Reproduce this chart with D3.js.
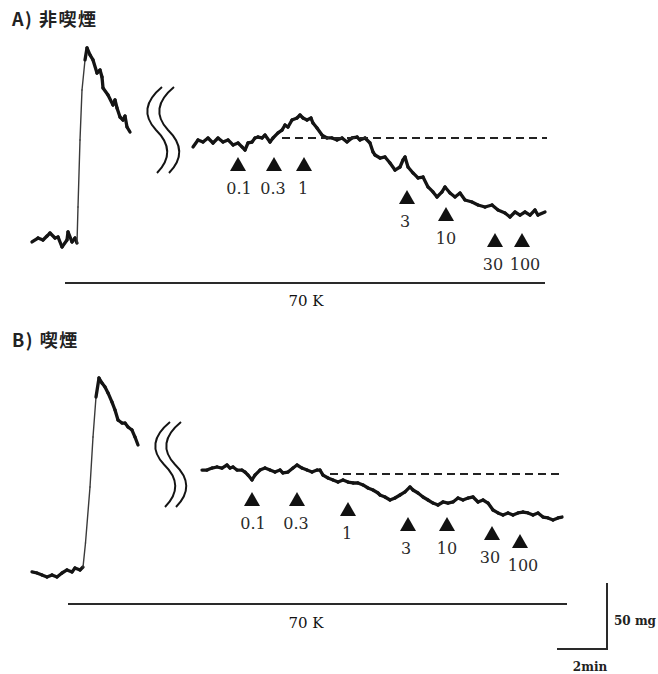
<!DOCTYPE html>
<html><head><meta charset="utf-8">
<script src="https://cdn.jsdelivr.net/npm/d3@7"></script>
<style>body{margin:0;background:#fff}</style>
</head><body>
<svg id="c" width="658" height="674"></svg>
<script>
// ---------------- DATA (time in min, tension in mg above resting baseline) ----------------
const titles = ["A) 非喫煙", "B) 喫煙"];
const doses = ["0.1", "0.3", "1", "3", "10", "30", "100"];
const doseTimeA = [8.24, 9.68, 10.88, 15.0, 16.56, 18.52, 19.6];
const doseTimeB = [8.8, 10.6, 12.64, 15.04, 16.6, 18.4, 19.52];
const kclLabel = "70 K";
const kclSpanA = [1.32, 20.52];
const kclSpanB = [1.44, 21.4];
const refLevelA = 77.3, refSpanA = [10.0, 20.6];
const refLevelB = 75.0, refSpanB = [11.92, 21.2];
const scaleMg = 50, scaleMin = 2;

// A) non-smoker: KCl contraction, then (after break) cumulative doses
const traceA1 = [[0,-1.5],[0.24,1.5],[0.44,0],[0.6,3],[0.72,5.3],[0.92,1.5],[1.04,2.3],[1.2,-5.3],[1.4,0],[1.44,6.1],[1.6,-1.5],[1.72,1.5],[1.8,-2.3],
  [1.84,25],[1.92,75.8],[2.0,113.6],[2.12,136.4],[2.2,145.5],[2.32,140.2],[2.44,136.4],[2.6,126.5],[2.72,128.8],[2.8,123.5],[2.84,115.2],
  [3.04,109.8],[3.24,102.3],[3.32,106.1],[3.4,100],[3.52,93.2],[3.64,90.9],[3.72,93.9],[3.8,85.6],[3.92,81.8]];
const traceA2 = [[6.44,70.5],[6.64,75.8],[6.84,74.2],[7.04,77.3],[7.24,73.5],[7.44,77.3],[7.64,74.2],[7.84,75.8],[8.04,72.0],[8.24,73.5],
  [8.40,70.5],[8.52,68.2],[8.64,73.5],[8.80,74.2],[8.92,77.3],[9.04,78.0],[9.20,77.3],[9.32,79.5],[9.52,74.2],[9.64,77.3],[9.84,81.1],
  [10.00,83.3],[10.12,87.1],[10.24,85.6],[10.40,90.9],[10.60,92.4],[10.72,94.7],[10.84,92.4],[11.00,90.9],[11.16,92.4],[11.24,88.6],
  [11.40,84.8],[11.60,79.5],[11.80,77.3],[12.00,77.3],[12.20,75.8],[12.40,77.3],[12.60,74.2],[12.80,77.3],[13.00,78.0],[13.12,75.8],
  [13.32,77.3],[13.52,73.5],[13.64,66.7],[13.72,64.4],[13.92,62.1],[14.12,62.9],[14.32,58.3],[14.52,53.0],[14.72,55.3],[14.84,60.6],
  [14.92,62.9],[15.04,55.3],[15.24,50.8],[15.44,47.0],[15.64,47.7],[15.84,40.2],[16.04,36.4],[16.20,32.6],[16.40,36.4],[16.52,40.2],
  [16.72,35.6],[16.92,32.6],[17.12,35.6],[17.32,30.3],[17.60,28.8],[17.84,26.5],[18.12,25.0],[18.40,26.5],[18.64,22.7],[18.92,20.5],
  [19.12,17.4],[19.32,21.2],[19.52,18.9],[19.72,21.2],[19.92,18.9],[20.12,22.7],[20.24,18.9],[20.52,21.2]];

// B) smoker
const traceB1 = [[0,0.8],[0.2,0],[0.4,-1.5],[0.6,-3.0],[0.8,-1.5],[1.0,-3.0],[1.2,0],[1.4,2.3],[1.6,0.8],[1.72,3.8],[1.92,2.3],[2.04,4.5],
  [2.14,22.7],[2.32,65.2],[2.44,103],[2.56,133.3],[2.68,147.7],[2.8,143.9],[2.92,140.9],[3.04,136.4],[3.2,129.5],[3.32,123.5],[3.44,115.9],
  [3.6,113.6],[3.72,113.6],[3.84,110.6],[4.0,108.3],[4.12,103],[4.24,97]];
const traceB2 = [[6.8,78.0],[7.0,78.0],[7.2,79.5],[7.4,80.3],[7.6,79.5],[7.8,81.8],[7.92,79.5],[8.04,80.3],[8.2,78.0],[8.4,78.0],[8.52,76.5],
  [8.64,74.2],[8.8,70.5],[8.92,74.2],[9.12,78.0],[9.32,79.5],[9.52,78.0],[9.72,76.5],[9.92,78.0],[10.04,75.8],[10.24,76.5],[10.44,79.5],
  [10.6,81.8],[10.8,79.5],[11.0,78.0],[11.2,76.5],[11.4,78.0],[11.52,78.0],[11.64,74.2],[11.84,72.0],[12.04,70.5],[12.24,68.9],[12.44,70.5],
  [12.64,68.9],[12.84,68.2],[13.04,68.2],[13.24,66.7],[13.44,64.4],[13.64,62.9],[13.84,60.6],[13.92,59.1],[14.12,57.6],[14.32,55.3],
  [14.52,56.8],[14.72,59.1],[14.92,61.4],[15.12,65.2],[15.24,62.9],[15.44,60.6],[15.64,57.6],[15.84,55.3],[16.04,53.0],[16.24,51.5],
  [16.44,53.8],[16.64,53.0],[16.84,53.8],[17.04,56.8],[17.24,55.3],[17.44,56.8],[17.64,57.6],[17.84,53.8],[18.04,55.3],[18.24,53.0],
  [18.44,47.7],[18.64,45.5],[18.84,43.9],[19.04,45.5],[19.24,43.9],[19.44,45.5],[19.64,46.2],[19.84,45.5],[20.04,43.9],[20.24,45.5],
  [20.44,42.4],[20.64,41.7],[20.84,40.2],[21.04,41.7],[21.2,42.4]];

// ---------------- LAYOUT ----------------
const arrowLevelA = [62.9, 62.9, 62.9, 37.9, 25, 5.3, 5.3];
const arrowLevelB = [61.4, 61.4, 53.8, 42.4, 42.4, 35.6, 29.5];
const labelDx = [1, -1, -1, -2, 0, -2, 3];

const svg = d3.select("#c");
const x = d3.scaleLinear().domain([0, 2]).range([32, 82]);
const yA = d3.scaleLinear().domain([0, 50]).range([240, 174]);
const yB = d3.scaleLinear().domain([0, 50]).range([573, 507]);
const INK = "#141414";

function drawTrace(y, data) {
  const g = svg.append("g");
  for (let i = 1; i < data.length; i++) {
    const x0 = x(data[i-1][0]), y0 = y(data[i-1][1]), x1 = x(data[i][0]), y1 = y(data[i][1]);
    const steep = Math.abs(y1 - y0) > 20 && Math.abs(y1 - y0) / Math.max(0.1, Math.abs(x1 - x0)) > 6;
    g.append("line").attr("x1", x0).attr("y1", y0).attr("x2", x1).attr("y2", y1)
      .attr("stroke", steep ? "#3a3a3a" : INK).attr("stroke-width", steep ? 1.4 : 3.3)
      .attr("stroke-linecap", "round");
  }
}
function drawBreak(bx, top, bot) {
  const h = bot - top, mid = top + h / 2;
  const p = d3.path();
  p.moveTo(bx + 14, top);
  p.quadraticCurveTo(bx - 12, top + h * 0.25, bx + 8, mid);
  p.quadraticCurveTo(bx + 30, mid + h * 0.25, bx + 9, bot);
  svg.append("path").attr("d", p.toString()).attr("fill", "none").attr("stroke", INK).attr("stroke-width", 2);
}
function drawPanel(y, title, titleY, t1, t2, doseT, levels, refLevel, refSpan, kclSpan, kclY, kclTextY, breaks) {
  svg.append("text").attr("x", 12).attr("y", titleY).text(title)
    .attr("font-family", "'Noto Sans CJK JP', sans-serif").attr("font-size", 18).attr("font-weight", 700)
    .attr("letter-spacing", 1.5).attr("fill", "#222");
  drawTrace(y, t1);
  drawTrace(y, t2);
  breaks.forEach(b => drawBreak(b[0], b[1], b[2]));
  svg.append("line").attr("x1", x(refSpan[0])).attr("x2", x(refSpan[1]))
    .attr("y1", y(refLevel)).attr("y2", y(refLevel))
    .attr("stroke", "#222").attr("stroke-width", 2).attr("stroke-dasharray", "8,5");
  doses.forEach((d, i) => {
    const ax = x(doseT[i]), ay = y(levels[i]);
    svg.append("path").attr("d", `M${ax},${ay} L${ax + 8},${ay + 14} L${ax - 8},${ay + 14} Z`).attr("fill", "#111");
    svg.append("text").attr("x", ax + labelDx[i]).attr("y", ay + 37).attr("text-anchor", "middle").text(d)
      .attr("font-family", "'DejaVu Serif', serif").attr("font-size", 16).attr("fill", "#2a2a2a");
  });
  svg.append("line").attr("x1", x(kclSpan[0])).attr("x2", x(kclSpan[1])).attr("y1", kclY).attr("y2", kclY)
    .attr("stroke", "#2a2a2a").attr("stroke-width", 2);
  svg.append("text").attr("x", 306).attr("y", kclTextY).attr("text-anchor", "middle").text(kclLabel)
    .attr("font-family", "'DejaVu Serif', serif").attr("font-size", 15).attr("fill", "#111");
}

drawPanel(yA, titles[0], 26, traceA1, traceA2, doseTimeA, arrowLevelA, refLevelA, refSpanA, kclSpanA, 283, 306,
  [[148, 87, 173], [160, 87, 173]]);
drawPanel(yB, titles[1], 347, traceB1, traceB2, doseTimeB, arrowLevelB, refLevelB, refSpanB, kclSpanB, 604, 628,
  [[156, 422, 507], [167, 422, 507]]);

// scale bar
const cx = x(23), cy = 649;
svg.append("path").attr("d", `M${cx},${cy - (yB(0) - yB(scaleMg))} L${cx},${cy} L${cx - (x(scaleMin) - x(0))},${cy}`)
  .attr("fill", "none").attr("stroke", "#2a2a2a").attr("stroke-width", 2);
svg.append("text").attr("x", 614).attr("y", 625).text(scaleMg + " mg")
  .attr("font-family", "'DejaVu Serif', serif").attr("font-size", 12).attr("font-weight", 700).attr("fill", "#222");
svg.append("text").attr("x", 590).attr("y", 671).attr("text-anchor", "middle").text(scaleMin + "min")
  .attr("font-family", "'DejaVu Serif', serif").attr("font-size", 12).attr("font-weight", 700).attr("fill", "#222");
</script>
</body></html>
